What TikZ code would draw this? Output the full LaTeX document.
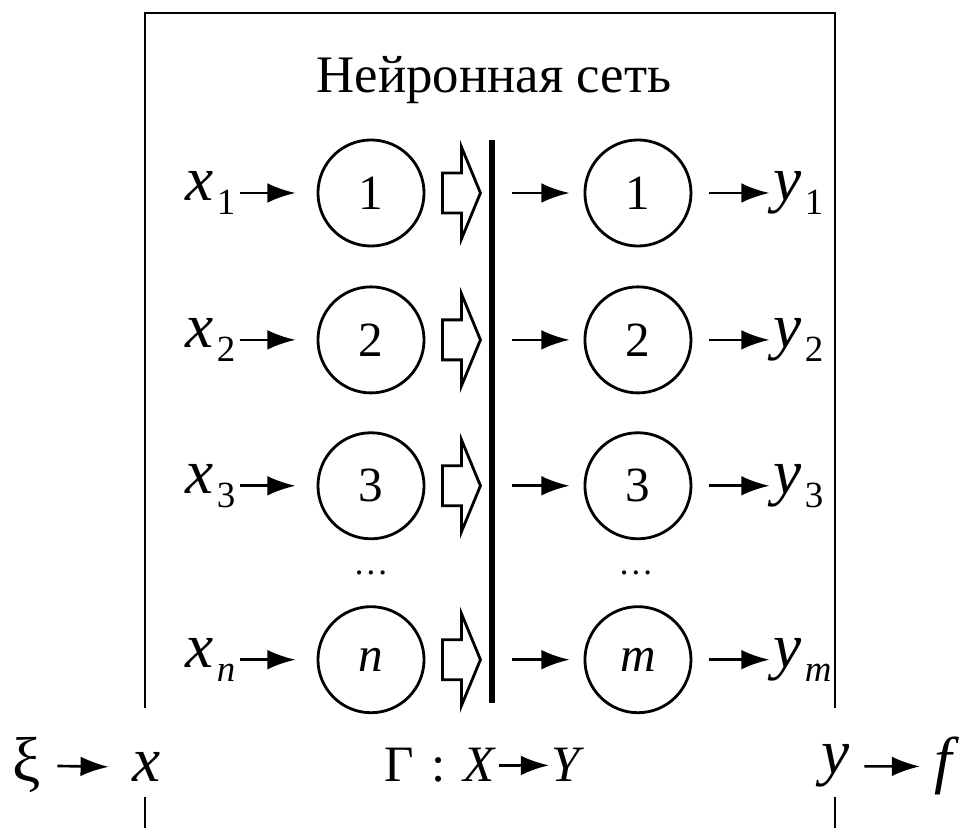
\documentclass[tikz,border=0pt]{standalone}
\usepackage{fontspec}
\setmainfont{Liberation Serif}
\usetikzlibrary{arrows.meta, positioning}
\newcommand{\lowidx}[1]{\hspace{0.05em}\raisebox{-0.22em}{\fontsize{10.5}{10.5}\selectfont #1}}

\begin{document}
\begin{tikzpicture}[
    x=0.01cm, y=-0.01cm,
    >={Latex[length=8pt,width=5.6pt]},
    every node/.style={font=\fontsize{14}{16}\selectfont},
    neuron/.style={circle, draw, line width=0.8pt, minimum size=1.06cm, inner sep=0pt},
    var/.style={font=\fontsize{18}{20}\selectfont\itshape, inner sep=1pt},
    arr/.style={->, line width=0.75pt},
    hollow/.style={draw, line width=0.8pt, line join=miter},
    frame/.style={line width=0.6pt}
  ]
  \useasboundingbox (0,0) rectangle (975,828);

  % frame of the network, open at the bottom
  \draw[frame] (145,708) -- (145,13) -- (835,13) -- (835,708);
  \draw[frame] (145,797) -- (145,828);
  \draw[frame] (835,797) -- (835,828);

  \node[font=\fontsize{15}{18}\selectfont, anchor=base] (title) at (494,93) {Нейронная сеть};

  % input neurons
  \node[neuron] (in1) at (371,193) {1};
  \node[neuron, below=0.38cm of in1] (in2) {2};
  \node[neuron, below=0.37cm of in2] (in3) {3};
  \node[neuron, below=0.65cm of in3] (inn) {\itshape n};
  \node[anchor=base, font=\fontsize{10}{10}\selectfont] (dotsin) at (371,575) {\dots};

  % output neurons
  \node[neuron, right=1.58cm of in1] (out1) {1};
  \node[neuron, right=1.58cm of in2] (out2) {2};
  \node[neuron, right=1.58cm of in3] (out3) {3};
  \node[neuron, right=1.58cm of inn] (outm) {\itshape m};
  \node[anchor=base, font=\fontsize{10}{10}\selectfont] (dotsout) at (636,575) {\dots};

  % inputs
  \node[var, left=0.77cm of in1] (x1) {x\lowidx{\upshape 1}};
  \node[var, left=0.77cm of in2] (x2) {x\lowidx{\upshape 2}};
  \node[var, left=0.77cm of in3] (x3) {x\lowidx{\upshape 3}};
  \node[var, left=0.77cm of inn] (xn) {x\lowidx{n}};

  % outputs
  \node[var, right=0.77cm of out1] (y1) {y\lowidx{\upshape 1}};
  \node[var, right=0.77cm of out2] (y2) {y\lowidx{\upshape 2}};
  \node[var, right=0.77cm of out3] (y3) {y\lowidx{\upshape 3}};
  \node[var, right=0.77cm of outm] (ym) {y\lowidx{m}};

  \draw[arr, shorten >=0.21cm] (x1.east |- in1.west) -- (in1.west);
  \draw[arr, shorten >=0.21cm] (x2.east |- in2.west) -- (in2.west);
  \draw[arr, shorten >=0.21cm] (x3.east |- in3.west) -- (in3.west);
  \draw[arr, shorten >=0.21cm] (xn.east |- inn.west) -- (inn.west);

  % hollow arrows into the separator
  \draw[hollow] ([xshift=0.17cm, yshift=0.2cm]in1.east) -- ++(19,0) -- ++(0,-26) -- ++(19,46) -- ++(-19,46) -- ++(0,-26) -- ++(-19,0) -- cycle;
  \draw[hollow] ([xshift=0.17cm, yshift=0.2cm]in2.east) -- ++(19,0) -- ++(0,-26) -- ++(19,46) -- ++(-19,46) -- ++(0,-26) -- ++(-19,0) -- cycle;
  \draw[hollow] ([xshift=0.17cm, yshift=0.2cm]in3.east) -- ++(19,0) -- ++(0,-26) -- ++(19,46) -- ++(-19,46) -- ++(0,-26) -- ++(-19,0) -- cycle;
  \draw[hollow] ([xshift=0.17cm, yshift=0.2cm]inn.east) -- ++(19,0) -- ++(0,-26) -- ++(19,46) -- ++(-19,46) -- ++(0,-26) -- ++(-19,0) -- cycle;

  \coordinate (bartop) at (492,140);
  \coordinate (barbot) at (492,703);
  \draw[line width=1.5pt] (bartop) -- (barbot);

  \draw[arr, shorten <=0.2cm, shorten >=0.14cm] (bartop |- out1.west) -- (out1.west);
  \draw[arr, shorten <=0.2cm, shorten >=0.14cm] (bartop |- out2.west) -- (out2.west);
  \draw[arr, shorten <=0.2cm, shorten >=0.14cm] (bartop |- out3.west) -- (out3.west);
  \draw[arr, shorten <=0.2cm, shorten >=0.14cm] (bartop |- outm.west) -- (outm.west);

  \draw[arr, shorten <=0.17cm] (out1.east) -- (y1.west |- out1.east);
  \draw[arr, shorten <=0.17cm] (out2.east) -- (y2.west |- out2.east);
  \draw[arr, shorten <=0.17cm] (out3.east) -- (y3.west |- out3.east);
  \draw[arr, shorten <=0.17cm] (outm.east) -- (ym.west |- outm.east);

  % mapping line under the frame
  \node[var, anchor=base] (xi) at (27,782) {\upshape ξ};
  \node[var, anchor=base] (xx) at (147,782) {x};
  \draw[arr, shorten <=0.12cm, shorten >=0.2cm] (xi) -- (xx);

  \node[anchor=base east, inner sep=0.5pt, font=\fontsize{14.5}{16}\selectfont] (gmap) at (499,782) {Γ\hspace{0.35em}:\hspace{0.35em}\textit{X}};
  \node[anchor=base west, inner sep=0.5pt, font=\fontsize{14.5}{16}\selectfont\itshape] (ymap) at (549,782) {Y};
  \draw[arr] (gmap) -- (ymap);

  \node[var, anchor=base] (yy) at (836,774) {y};
  \node[var, anchor=base west] (ff) at (930,782) {f};
  \draw[arr, shorten <=0.1cm, shorten >=0.1cm] (yy) -- (ff);
\end{tikzpicture}
\end{document}
